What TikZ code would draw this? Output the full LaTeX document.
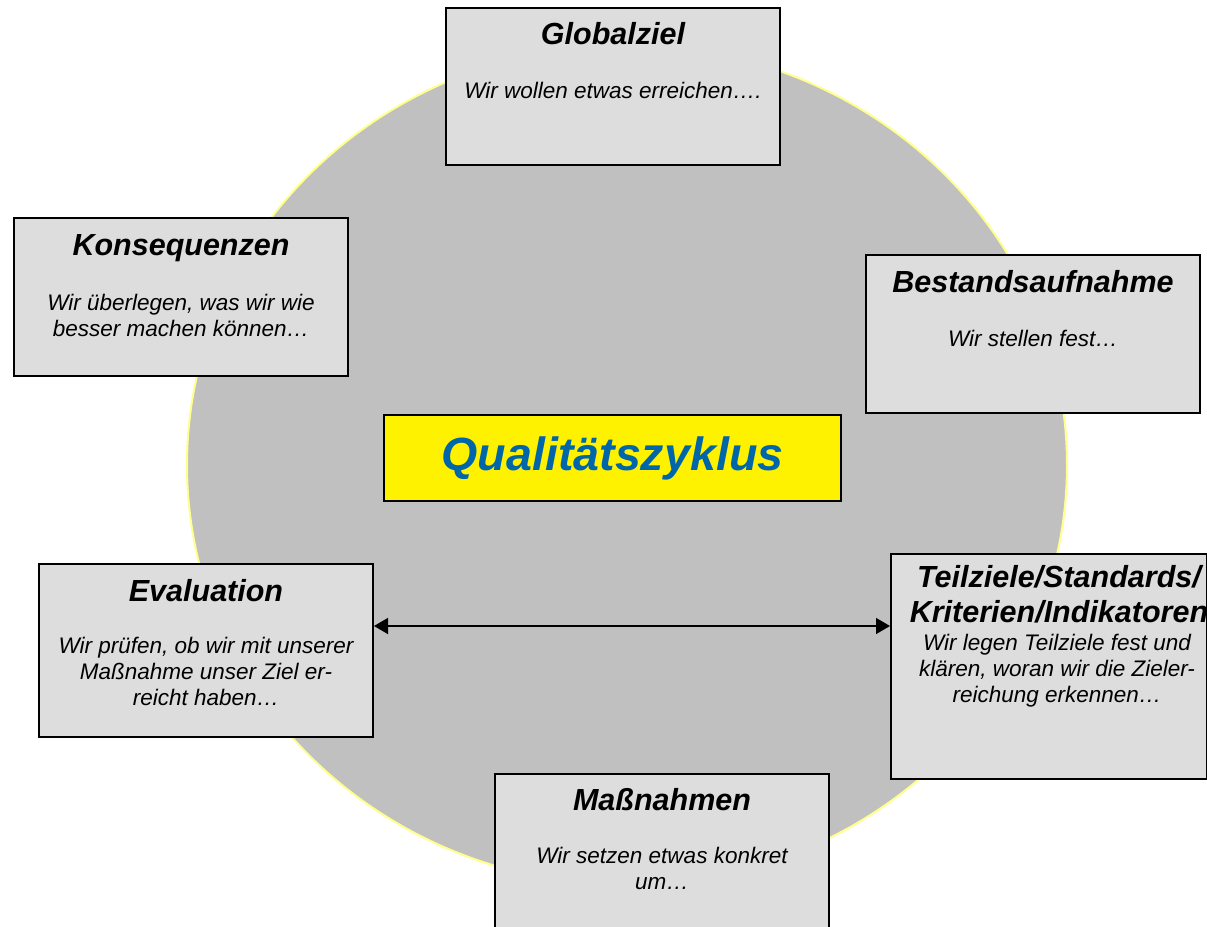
\documentclass[tikz,border=0pt]{standalone}
\usepackage{fontspec}
\setmainfont{Liberation Sans}
\usetikzlibrary{arrows.meta, positioning, shapes.geometric}

\definecolor{ringgray}{RGB}{192,192,192}
\definecolor{ringedge}{RGB}{255,255,140}
\definecolor{boxgray}{RGB}{221,221,221}
\definecolor{cycleblue}{RGB}{0,102,170}

\begin{document}
\begin{tikzpicture}[
        x=0.5pt, y=-0.5pt,
        ring/.style={ellipse, draw=ringedge, line width=1pt, fill=ringgray, minimum width=440pt, minimum height=420pt, inner sep=0pt},
        stage/.style={rectangle, draw=black, line width=1pt, fill=boxgray, anchor=north west, minimum width=167pt, minimum height=78.5pt, inner sep=0pt},
        stagetitle/.style={font=\fontsize{15.25}{17.5}\selectfont\bfseries\itshape, inner sep=0pt, align=center, anchor=base},
        stagetext/.style={font=\fontsize{11.25}{13}\selectfont\itshape, inner sep=0pt, align=center, anchor=base},
        cycle_label/.style={rectangle, draw=black, line width=1pt, fill=yellow, minimum width=228.5pt, minimum height=43pt, text=cycleblue, font=\fontsize{23.3}{26}\selectfont\bfseries\itshape},
        arrow/.style={{Triangle[length=7pt, width=8pt]}-{Triangle[length=7pt, width=8pt]}, line width=0.75pt}
    ]
    \useasboundingbox (0,0) rectangle (1207,927);
    % background circle
    \node (ring) [ring] at (627,465) {};

    % Globalziel
    \node (ziel) [stage] at (445,7) {};
    \node (zielT) [below=18.5pt of ziel.north, stagetitle] {Globalziel};
    \node (zielB) [below=27pt of zielT.base, stagetext] {Wir wollen etwas erreichen….};

    % Bestandsaufnahme
    \node (bestand) [stage, minimum height=79pt] at (865,254) {};
    \node (bestandT) [below=19pt of bestand.north, stagetitle] {Bestandsaufnahme};
    \node (bestandB) [below=27pt of bestandT.base, stagetext] {Wir stellen fest…};

    % Teilziele (base = last line)
    \node (teil) [stage, minimum width=158pt, minimum height=112.5pt] at (890,553) {};
    \node (teilT) [below=34.5pt of teil.north, stagetitle, xshift=5pt] {Teilziele/Standards/\\Kriterien/Indikatoren};
    \node (teilB) [below=40pt of teilT.base, stagetext, xshift=-1pt] {Wir legen Teilziele fest und\\klären, woran wir die Zieler-\\reichung erkennen…};

    % Massnahmen
    \node (mass) [stage, minimum height=85pt] at (494,773) {};
    \node (massT) [below=18.5pt of mass.north, stagetitle] {Maßnahmen};
    \node (massB) [below=39.5pt of massT.base, stagetext] {Wir setzen etwas konkret\\um…};

    % Evaluation
    \node (eval) [stage, minimum height=86.5pt] at (38,563) {};
    \node (evalT) [below=19pt of eval.north, stagetitle] {Evaluation};
    \node (evalB) [below=52pt of evalT.base, stagetext] {Wir prüfen, ob wir mit unserer\\Maßnahme unser Ziel er-\\reicht haben…};

    % Konsequenzen
    \node (kons) [stage, minimum height=79pt] at (13,217) {};
    \node (konsT) [below=19pt of kons.north, stagetitle] {Konsequenzen};
    \node (konsB) [below=40.5pt of konsT.base, stagetext] {Wir überlegen, was wir wie\\besser machen können…};

    % centre label
    \node (cycle) [cycle_label] at (612.5,458) {Qualitätszyklus};

    \coordinate (arrowlevel) at (0,626);
    \draw[arrow] (eval.east |- arrowlevel) -- (teil.west |- arrowlevel);
\end{tikzpicture}
\end{document}
